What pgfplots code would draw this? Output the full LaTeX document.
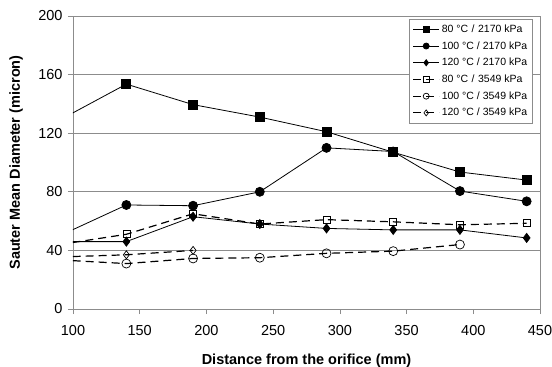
\documentclass[border=0pt]{standalone}
\usepackage{fontspec}
\setmainfont{Liberation Sans}
\usepackage{pgfplots}
\pgfplotsset{compat=1.18}

\begin{document}
\begin{tikzpicture}
\begin{axis}[
  scale only axis, width=467pt, height=293pt,
  xmin=100, xmax=450, ymin=0, ymax=200,
  xtick={100,150,...,450}, ytick={0,40,...,200},
  xtick pos=left, ytick pos=left,
  ymajorgrids,
  major grid style={black!45, line width=0.7pt},
  axis line style={black!45, line width=0.7pt},
  tick style={black!45, line width=0.7pt},
  tick align=outside, major tick length=5pt,
  ticklabel style={font=\fontsize{14.5}{16}\selectfont},
  xticklabel style={yshift=-8pt},
  yticklabel style={xshift=-2pt},
  /pgf/number format/assume math mode=true,
  xlabel={\textbf{Distance from the orifice (mm)}},
  ylabel={\textbf{Sauter Mean Diameter (micron)}},
  label style={font=\fontsize{14.5}{16}\selectfont},
  xlabel style={at={(axis description cs:0.5,-0.177)}, anchor=center},
  ylabel style={at={(axis description cs:-0.122,0.5)}, anchor=center},
  legend style={at={(rel axis cs:0.985,0.99)}, anchor=north east,
    draw=black!45, line width=0.7pt, fill=white,
    font=\fontsize{10.5}{12}\selectfont, row sep=3.6pt, inner sep=3.5pt},
  legend cell align=left,
  legend image code/.code={%
    \draw[mark repeat=2,mark phase=2] plot coordinates {(0pt,0pt) (13pt,0pt) (26pt,0pt)};},
  every legend image post/.style={mark size=3pt},
  clip=true,
]
\addplot[black, line width=0.8pt, mark=square*, mark size=4.5pt, mark options={solid}]
  coordinates {(90,129) (140,153.5) (190,139.5) (240,131) (290,121) (340,107) (390,93.5) (440,88)};
\addlegendentry{80 °C\,\,/\,\,2170 kPa}
\addplot[black, line width=0.8pt, mark=*, mark size=4.5pt, mark options={solid}]
  coordinates {(90,50) (140,71) (190,70.5) (240,80) (290,110) (340,107.5) (390,80.5) (440,73.5)};
\addlegendentry{100 °C / 2170 kPa}
\addplot[black, line width=0.8pt, mark=diamond*, mark size=4.5pt, mark options={solid}]
  coordinates {(90,46) (140,46) (190,63) (240,58) (290,55) (340,54) (390,54) (440,48.5)};
\addlegendentry{120 °C / 2170 kPa}
\addplot[black, line width=1.2pt, dash pattern=on 8pt off 5pt, mark=square, mark size=3.5pt, mark options={solid, line width=0.7pt, fill=white}]
  coordinates {(90,44) (140,51) (190,65) (240,58) (290,61) (340,59.5) (390,57.5) (440,58.5)};
\addlegendentry{80 °C\,\,/\,\,3549 kPa}
\addplot[black, line width=1.2pt, dash pattern=on 8pt off 5pt, mark=o, mark size=4.5pt, mark options={solid, line width=0.7pt, fill=white}]
  coordinates {(90,33.5) (140,31) (190,34.5) (240,35) (290,38) (340,39.5) (390,44)};
\addlegendentry{100 °C / 3549 kPa}
\addplot[black, line width=1.2pt, dash pattern=on 8pt off 5pt, mark=diamond, mark size=4pt, mark options={solid, line width=0.7pt, fill=white}]
  coordinates {(90,35.5) (140,37) (190,40)};
\addlegendentry{120 °C / 3549 kPa}
\end{axis}
\pgfresetboundingbox
\path[use as bounding box] (-73pt,-58pt) rectangle (479pt,309pt);
\end{tikzpicture}
\end{document}
